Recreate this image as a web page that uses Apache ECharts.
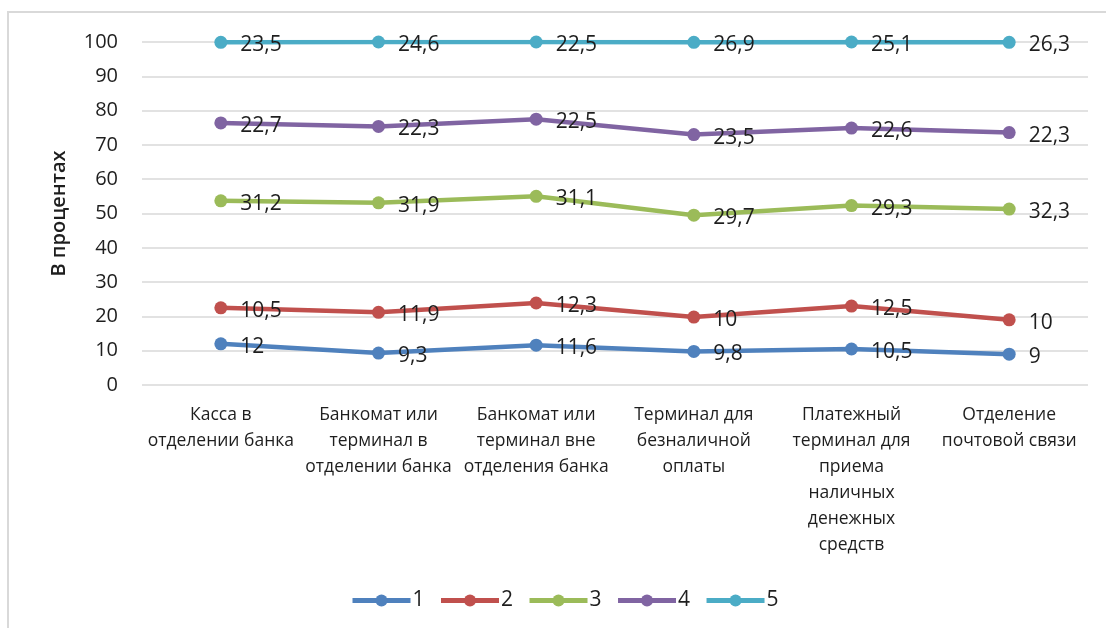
<!DOCTYPE html>
<html>
<head>
<meta charset="utf-8">
<script src="https://cdn.jsdelivr.net/npm/echarts@6/dist/echarts.min.js"></script>
<style>
  html, body { margin: 0; padding: 0; background: #fff; }
  #chart { width: 1106px; height: 628px; }
</style>
</head>
<body>
<div id="chart"></div>
<script>
// Categories of payment points
const categories = [
  'Касса в\nотделении банка',
  'Банкомат или\nтерминал в\nотделении банка',
  'Банкомат или\nтерминал вне\nотделения банка',
  'Терминал для\nбезналичной\nоплаты',
  'Платежный\nтерминал для\nприема\nналичных\nденежных\nсредств',
  'Отделение\nпочтовой связи'
];

// Shares per group (stacked to 100%)
const series1 = [12, 9.3, 11.6, 9.8, 10.5, 9];
const series2 = [10.5, 11.9, 12.3, 10, 12.5, 10];
const series3 = [31.2, 31.9, 31.1, 29.7, 29.3, 32.3];
const series4 = [22.7, 22.3, 22.5, 23.5, 22.6, 22.3];
const series5 = [23.5, 24.6, 22.5, 26.9, 25.1, 26.3];

const seriesNames = ['1', '2', '3', '4', '5'];
const seriesData = [series1, series2, series3, series4, series5];
const colors = ['#4F81BD', '#C0504D', '#9BBB59', '#8064A2', '#4BACC6'];

const yTicks = { min: 0, max: 100, interval: 10 };
const axisTitle = 'В процентах';

const FONT = '"Open Sans", "DejaVu Sans", sans-serif';
const TEXT = '#1e1e1e';

const chart = echarts.init(document.getElementById('chart'));

chart.setOption({
  animation: false,
  backgroundColor: '#fff',
  color: colors,
  textStyle: { fontFamily: FONT },
  graphic: [{
    type: 'rect',
    shape: { x: 8, y: 12, width: 1200, height: 700 },
    style: { fill: 'none', stroke: '#d9d9d9', lineWidth: 2 },
    silent: true,
    z: -10
  }],
  grid: { left: 142, right: 18, top: 42, bottom: 243, containLabel: false },
  legend: {
    bottom: 12,
    left: 345,
    itemWidth: 58,
    itemHeight: 15,
    itemGap: 14,
    lineStyle: { width: 5 },
    textStyle: { fontSize: 21, color: TEXT, fontFamily: FONT, padding: [0, 0, 0, -3] },
    data: seriesNames
  },
  xAxis: {
    type: 'category',
    data: categories,
    boundaryGap: true,
    axisLine: { show: false },
    axisTick: { show: false },
    axisLabel: {
      interval: 0,
      margin: 17,
      fontSize: 17.5,
      lineHeight: 26,
      color: TEXT,
      fontFamily: FONT,
      align: 'center'
    }
  },
  yAxis: {
    type: 'value',
    min: yTicks.min,
    max: yTicks.max,
    interval: yTicks.interval,
    name: axisTitle,
    nameLocation: 'middle',
    nameGap: 73,
    nameRotate: 90,
    nameTextStyle: { fontSize: 20, color: TEXT, fontFamily: FONT, fontWeight: 600 },
    axisLine: { show: false },
    axisTick: { show: false },
    axisLabel: { fontSize: 20, color: TEXT, margin: 24, fontFamily: FONT },
    splitLine: { lineStyle: { color: '#d9d9d9', width: 1.5 } }
  },
  series: seriesData.map((d, i) => ({
    name: seriesNames[i],
    type: 'line',
    stack: 'total',
    data: d,
    symbol: 'circle',
    symbolSize: 13,
    lineStyle: { width: 4.5, color: colors[i] },
    itemStyle: { color: colors[i] },
    label: {
      show: true,
      position: 'right',
      distance: 13,
      offset: [0, 3],
      fontSize: 21,
      color: TEXT,
      fontFamily: FONT,
      formatter: p => String(d[p.dataIndex]).replace('.', ',')
    }
  }))
});
</script>
</body>
</html>
